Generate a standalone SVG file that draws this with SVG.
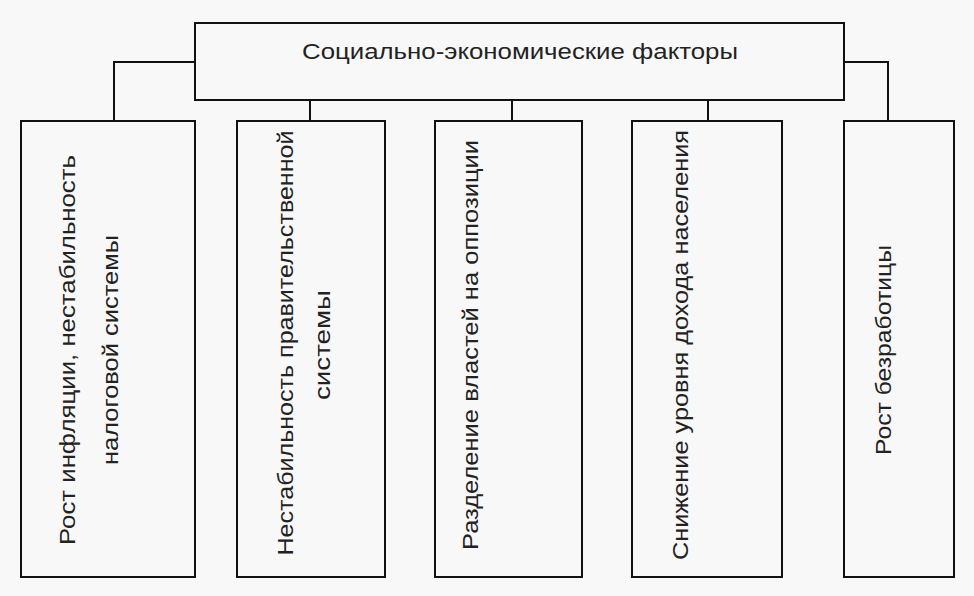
<svg xmlns="http://www.w3.org/2000/svg" width="974" height="596" viewBox="0 0 974 596">
<style>
rect{fill:none;stroke:#111;stroke-width:2}
.c{fill:none;stroke:#111;stroke-width:2}
text{font-family:"Liberation Sans",Arial,sans-serif;font-size:22px;fill:#222;text-anchor:middle}
</style>
<rect x="0" y="0" width="974" height="596" style="fill:#f8f8f8;stroke:none"/>
<g id="connectors">
<path class="c" d="M195 62H114V121M844 62H888V121M310 100V121M512 100V121M708 100V121"/>
</g>
<g id="top"><rect x="195" y="23" width="649" height="77"/><text x="520" y="59" textLength="436" lengthAdjust="spacingAndGlyphs">Социально-экономические факторы</text></g>
<g id="n1"><rect x="21" y="121" width="174" height="456"/>
<text transform="translate(75,350) rotate(-90)" textLength="390" lengthAdjust="spacingAndGlyphs">Рост инфляции, нестабильность</text>
<text transform="translate(118,350) rotate(-90)" textLength="230" lengthAdjust="spacingAndGlyphs">налоговой системы</text></g>
<g id="n2"><rect x="237" y="121" width="148" height="456"/>
<text transform="translate(293,343) rotate(-90)" textLength="425" lengthAdjust="spacingAndGlyphs">Нестабильность правительственной</text>
<text transform="translate(330,345) rotate(-90)" textLength="110" lengthAdjust="spacingAndGlyphs">системы</text></g>
<g id="n3"><rect x="435" y="121" width="147" height="456"/>
<text transform="translate(478,345) rotate(-90)" textLength="410" lengthAdjust="spacingAndGlyphs">Разделение властей на оппозиции</text></g>
<g id="n4"><rect x="632" y="121" width="150" height="456"/>
<text transform="translate(688,345) rotate(-90)" textLength="430" lengthAdjust="spacingAndGlyphs">Снижение уровня дохода населения</text></g>
<g id="n5"><rect x="844" y="121" width="110" height="456"/>
<text transform="translate(891,350) rotate(-90)" textLength="210" lengthAdjust="spacingAndGlyphs">Рост безработицы</text></g>
</svg>
